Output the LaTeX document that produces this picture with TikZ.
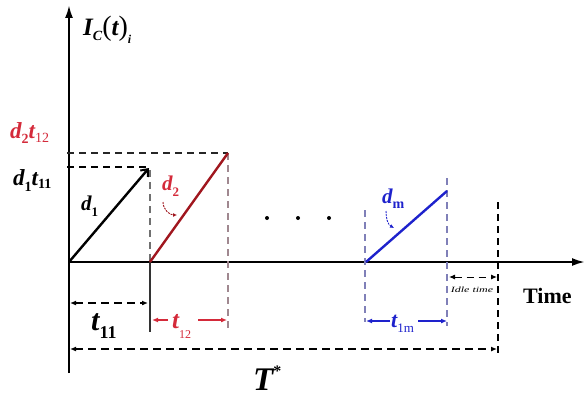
\documentclass[tikz,border=0pt]{standalone}
\usepackage{fontspec}
\setmainfont{Liberation Serif}
\usetikzlibrary{arrows.meta}
\definecolor{lred}{HTML}{D42A3A}
\definecolor{dred}{HTML}{A0161E}
\definecolor{mblue}{HTML}{1E22CC}
\definecolor{pinkgray}{HTML}{A08890}
\definecolor{bluegray}{HTML}{8080B8}
\definecolor{gguide}{HTML}{707070}
\newcommand\sbx[3]{\raisebox{#1}{\fontsize{#2}{#2}\selectfont\upshape #3}}
\begin{document}
\begin{tikzpicture}[x=1pt,y=-1pt,
  axis/.style={line width=2.2pt, -{Latex[length=13pt,width=8pt]}},
  ramp/.style={line width=2.4pt},
  guide/.style={line width=1.2pt, dash pattern=on 7pt off 5pt},
  dimarr/.style={line width=1.3pt, dash pattern=on 8pt off 5pt, {Latex[length=6pt,width=5pt]}-{Latex[length=6pt,width=5pt]}},
  onearr/.style={line width=1.2pt, -{Latex[length=6pt,width=5pt]}},
  lbl/.style={inner sep=0pt, anchor=base west, font=\bfseries\itshape\fontsize{21}{21}\selectfont},
  dotp/.style={circle, fill=black, inner sep=0pt, minimum size=4pt}]
\useasboundingbox (0,0) rectangle (585,396);
% key coordinates
\coordinate (ybot) at (69,373);
\coordinate (ytop) at (69,5);
\coordinate (O) at (69,262);
\coordinate (xend) at (585,262);
\coordinate (r1b) at (69,262);  \coordinate (r1t) at (149,168);
\coordinate (r2b) at (150,262); \coordinate (r2t) at (228,153);
\coordinate (rmb) at (366,262); \coordinate (rmt) at (447,191);
\coordinate (h1a) at (67,167);  \coordinate (h1b) at (150,167);
\coordinate (h2a) at (67,153);  \coordinate (h2b) at (228,153);
\coordinate (v1a) at (150,170); \coordinate (v1b) at (150,262); \coordinate (v1c) at (150,332);
\coordinate (v2a) at (228,153); \coordinate (v2b) at (228,330);
\coordinate (v3a) at (365,210); \coordinate (v3b) at (365,322);
\coordinate (v4a) at (447,178); \coordinate (v4b) at (447,326);
\coordinate (v5a) at (498,202); \coordinate (v5b) at (498,357);
% axes
\draw[axis] (ybot) -- (ytop);
\draw[axis] (O) -- (xend);
% guides
\draw[guide, black] (h1a) -- (h1b);
\draw[guide, black!85] (h2a) -- (h2b);
\draw[guide, gguide] (v1a) -- (v1b);
\draw[line width=1.1pt, black!80] (v1b) -- (v1c);
\draw[guide, pinkgray] (v2a) -- (v2b);
\draw[guide, bluegray] (v3a) -- (v3b);
\draw[guide, bluegray] (v4a) -- (v4b);
\draw[guide, black, line width=1.4pt] (v5a) -- (v5b);
% ramps
\draw[ramp, black, -{Straight Barb[length=6pt,width=10pt,line width=2pt]}] (r1b) -- (r1t);
\draw[ramp, dred] (r2b) -- (r2t);
\draw[ramp, mblue] (rmb) -- (rmt);
% dots
\node[dotp] (dot1) at (267,218) {};
\node[dotp] (dot2) at (298,218) {};
\node[dotp] (dot3) at (329,218) {};
% labels
\node[lbl, font=\bfseries\itshape\fontsize{25}{25}\selectfont] (ic) at (83,36) {I\sbx{-5pt}{14}{\itshape C}{\normalfont\mdseries\fontsize{28}{28}\selectfont(}t{\normalfont\mdseries\fontsize{28}{28}\selectfont)}\sbx{-8pt}{12}{\itshape i}};
\node[lbl, text=lred, font=\bfseries\itshape\fontsize{23}{23}\selectfont] (d2t12) at (10,138) {d\sbx{-5pt}{14}{2}t\sbx{-4pt}{14}{\mdseries 12}};
\node[lbl, font=\bfseries\itshape\fontsize{23}{23}\selectfont] (d1t11) at (13,185) {d\sbx{-6pt}{14}{1}t\sbx{-3pt}{14}{11}};
\node[lbl] (d1) at (81,210) {d\sbx{-6pt}{13}{1}};
\node[lbl, text=lred] (d2) at (162,190) {d\sbx{-6pt}{13}{2}};
\node[lbl, text=mblue] (dm) at (382,203) {d\sbx{-5pt}{14}{m}};
\node[lbl, font=\bfseries\fontsize{22}{22}\selectfont] (time) at (523,303) {Time};
\node[inner sep=0pt, font=\itshape\fontsize{8}{8}\selectfont, xscale=1.5] (idle) at (472,290) {Idle time};
% small curved pointers
\coordinate (d2p) at (177,215);
\coordinate (dmp) at (394,228);
\draw[dred, line width=0.9pt, dash pattern=on 2pt off 1pt, -{Latex[length=4pt,width=4pt]}] (163,202) to[out=-90, in=180] (d2p);
\draw[mblue, line width=0.9pt, dash pattern=on 2pt off 1pt, -{Latex[length=4pt,width=4pt]}] (386,211) to[out=-90, in=150] (dmp);
% dimension arrows
\coordinate (t11a) at (70,303); \coordinate (t11b) at (148,303);
\draw[dimarr, black] (t11a) -- (t11b);
\node[lbl, font=\bfseries\itshape\fontsize{30}{30}\selectfont] (t11) at (91,330) {t\sbx{-8pt}{18}{11}};
\coordinate (t12a) at (152,320); \coordinate (t12b) at (227,320);
\coordinate (t12l) at (168,320); \coordinate (t12r) at (198,320);
\draw[onearr, lred] (t12l) -- (t12a);
\draw[onearr, lred] (t12r) -- (t12b);
\node[lbl, text=lred, font=\bfseries\itshape\fontsize{25}{25}\selectfont] (t12) at (172,328) {t\sbx{-10pt}{12}{\mdseries 12}};
\coordinate (t1ma) at (366,321); \coordinate (t1mb) at (447,321);
\coordinate (t1ml) at (390,321); \coordinate (t1mr) at (418,321);
\draw[onearr, mblue] (t1ml) -- (t1ma);
\draw[onearr, mblue] (t1mr) -- (t1mb);
\node[lbl, text=mblue, font=\bfseries\itshape\fontsize{22}{22}\selectfont] (t1m) at (391,327) {t\sbx{-5pt}{13}{\mdseries 1m}};
\coordinate (ida) at (449,277); \coordinate (idb) at (497,277);
\draw[dimarr, black, line width=1pt, dash pattern=on 7pt off 5pt] (ida) -- (idb);
\coordinate (Ta) at (70,349); \coordinate (Tb) at (497,349);
\draw[dimarr, black, line width=1.6pt] (Ta) -- (Tb);
\node[lbl, font=\bfseries\itshape\fontsize{33}{33}\selectfont] (T) at (253,390) {T\raisebox{14pt}{\fontsize{16}{16}\selectfont\upshape *}};
\end{tikzpicture}
\end{document}
